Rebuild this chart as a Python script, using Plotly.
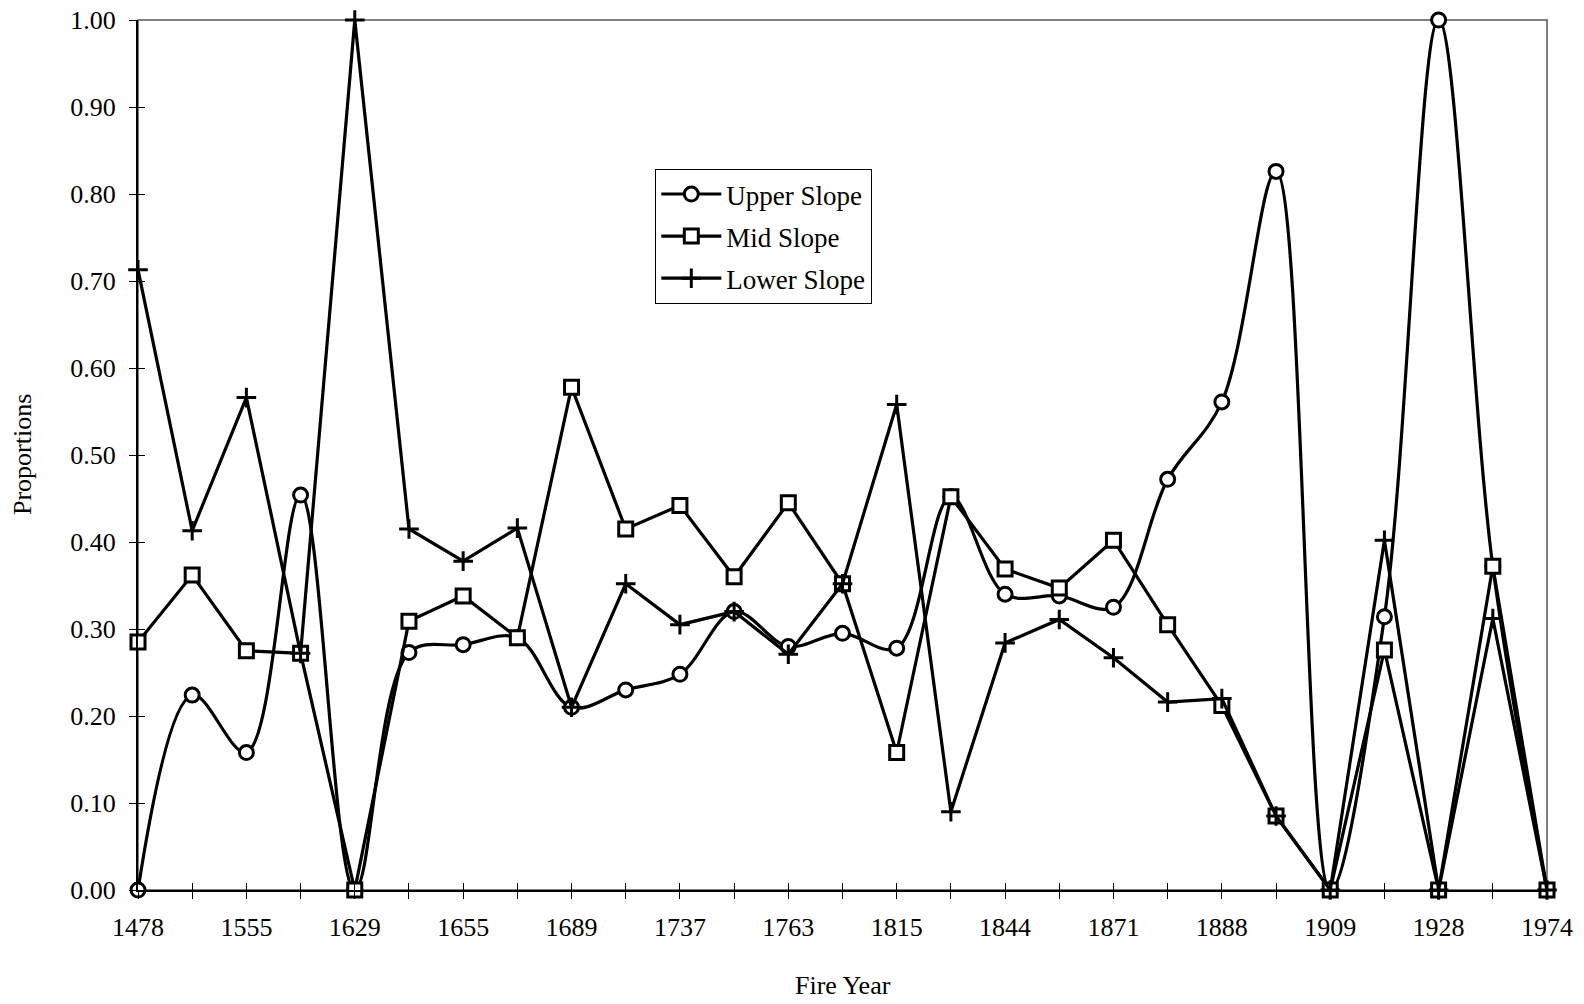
import plotly.graph_objects as go

# Fire years shown on the category axis (every other category is labelled)
fire_year_labels = ["1478", "1555", "1629", "1655", "1689", "1737", "1763",
                    "1815", "1844", "1871", "1888", "1909", "1928", "1974"]
n_categories = 27

# Proportion of fire scars by slope position for each fire year
upper_slope = [0.00, 0.224, 0.158, 0.454, 0.00, 0.273, 0.282, 0.290, 0.210,
               0.230, 0.248, 0.320, 0.280, 0.295, 0.278, 0.452, 0.340, 0.338,
               0.325, 0.472, 0.561, 0.826, 0.00, 0.314, 1.00, 0.372, 0.00]
mid_slope = [0.285, 0.362, 0.275, 0.272, 0.00, 0.309, 0.338, 0.290, 0.578,
             0.415, 0.442, 0.360, 0.445, 0.352, 0.158, 0.452, 0.369, 0.347,
             0.402, 0.305, 0.212, 0.085, 0.00, 0.276, 0.00, 0.372, 0.00]
lower_slope = [0.713, 0.413, 0.566, 0.272, 1.00, 0.415, 0.378, 0.416, 0.210,
               0.352, 0.305, 0.320, 0.271, 0.352, 0.558, 0.090, 0.284, 0.311,
               0.267, 0.216, 0.220, 0.085, 0.00, 0.402, 0.00, 0.312, 0.00]
y_ticks = [0.0, 0.1, 0.2, 0.3, 0.4, 0.5, 0.6, 0.7, 0.8, 0.9, 1.0]

x = list(range(n_categories))
tick_text = []
for i in x:
    tick_text.append(fire_year_labels[i // 2] if i % 2 == 0 else "")

FONT = "Liberation Serif, Times New Roman, serif"
LW = 3.2
MLW = 3

fig = go.Figure()

fig.add_trace(go.Scatter(
    x=x, y=upper_slope, name="Upper Slope", legendgroup="u",
    mode="lines+markers",
    line=dict(color="black", width=LW, shape="spline", smoothing=1.0),
    marker=dict(symbol="circle", size=14, color="white",
                line=dict(color="black", width=MLW)),
    cliponaxis=False,
))
fig.add_trace(go.Scatter(
    x=x, y=mid_slope, name="Mid Slope", legendgroup="m",
    mode="lines+markers",
    line=dict(color="black", width=LW),
    marker=dict(symbol="square", size=14, color="white",
                line=dict(color="black", width=MLW)),
    cliponaxis=False,
))
fig.add_trace(go.Scatter(
    x=x, y=lower_slope, name="Lower Slope", legendgroup="l",
    mode="lines+markers",
    line=dict(color="black", width=LW),
    marker=dict(symbol="cross-thin", size=14, color="black",
                line=dict(color="black", width=MLW)),
    cliponaxis=False,
))
# companion axes carry the inward half of the crossing tick marks
fig.add_trace(go.Scatter(
    x=x, y=upper_slope, xaxis="x2", yaxis="y2", mode="none",
    showlegend=False, hoverinfo="skip",
))

fig.update_layout(
    width=1584, height=1004,
    margin=dict(l=138, r=37, t=20, b=114, autoexpand=False),
    paper_bgcolor="white", plot_bgcolor="white",
    font=dict(family=FONT, size=26, color="black"),
    showlegend=True,
    legend=dict(
        x=0.367, y=0.829, xanchor="left", yanchor="top",
        bgcolor="white", bordercolor="black", borderwidth=1.2,
        font=dict(family=FONT, size=27, color="black"),
        traceorder="grouped", tracegroupgap=4, itemwidth=60,
    ),
    xaxis=dict(
        range=[0, n_categories - 1], tickmode="array", tickvals=x,
        ticktext=tick_text, ticks="outside", ticklen=7, tickwidth=1.2,
        tickcolor="black", showline=True, linecolor="black", linewidth=2,
        showgrid=False, zeroline=False, ticklabelstandoff=6,
        automargin=False, tickfont=dict(family=FONT, size=26),
    ),
    yaxis=dict(
        range=[0, 1], tickmode="array", tickvals=y_ticks,
        tickformat=".2f", ticks="outside", ticklen=7, tickwidth=1.2,
        tickcolor="black", showline=True, linecolor="black", linewidth=2,
        showgrid=False, zeroline=False, ticklabelstandoff=8,
        automargin=False, tickfont=dict(family=FONT, size=26),
    ),
    xaxis2=dict(
        overlaying="x", anchor="y2", range=[0, n_categories - 1],
        tickmode="array", tickvals=x, ticks="inside", ticklen=7,
        tickwidth=1.2, tickcolor="black", showticklabels=False,
        showgrid=False, zeroline=False, showline=False, automargin=False,
    ),
    yaxis2=dict(
        overlaying="y", anchor="x2", range=[0, 1], tickmode="array",
        tickvals=y_ticks, ticks="inside", ticklen=7, tickwidth=1.2,
        tickcolor="black", showticklabels=False, showgrid=False,
        zeroline=False, showline=False, automargin=False,
    ),
    shapes=[dict(type="rect", xref="paper", yref="paper", x0=0, x1=1,
                 y0=0, y1=1, line=dict(color="#555555", width=1.5),
                 layer="below")],
    annotations=[
        dict(text="Proportions", xref="paper", yref="paper",
             x=-0.0823, y=0.5, xanchor="center", yanchor="middle",
             textangle=-90, showarrow=False,
             font=dict(family=FONT, size=26)),
        dict(text="Fire Year", xref="paper", yref="paper",
             x=0.5, y=-0.1095, xanchor="center", yanchor="middle",
             showarrow=False, font=dict(family=FONT, size=26)),
    ],
)

fig.write_html("out.html")
